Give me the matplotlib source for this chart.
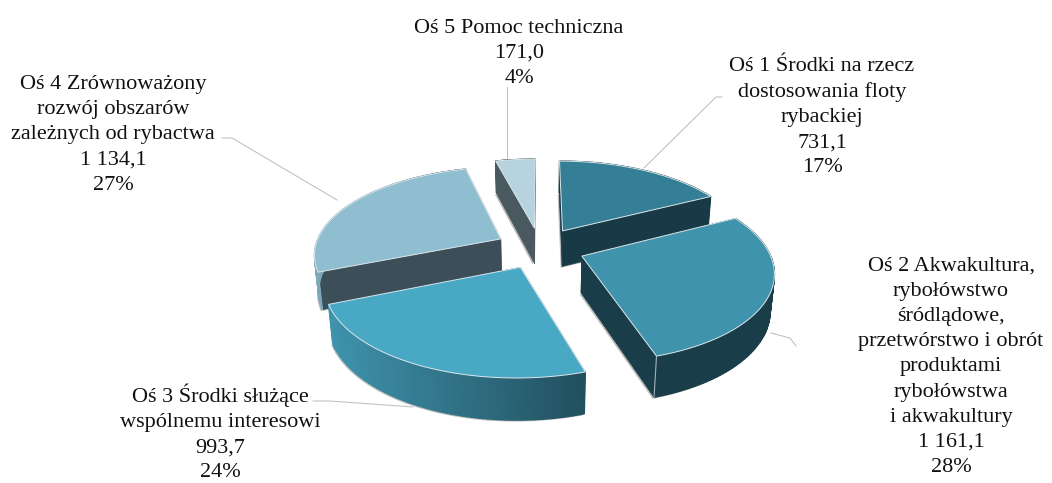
import numpy as np
import matplotlib
matplotlib.use("Agg")
import matplotlib.pyplot as plt
from matplotlib.colors import to_rgb
from matplotlib.patches import Polygon

# Exploded 3D pie, projected by hand because matplotlib has no perspective pie

categories = ["Oś 1", "Oś 2", "Oś 3", "Oś 4", "Oś 5"]
values = [731.1, 1161.1, 993.7, 1134.1, 171.0]
percents = ["17%", "28%", "24%", "27%", "4%"]
names = [
    "Oś 1 Środki na rzecz\ndostosowania floty\nrybackiej",
    "Oś 2 Akwakultura,\nrybołówstwo\nśródlądowe,\nprzetwórstwo i obrót\nproduktami\nrybołówstwa\ni akwakultury",
    "Oś 3 Środki służące\nwspólnemu interesowi",
    "Oś 4 Zrównoważony\nrozwój obszarów\nzależnych od rybactwa",
    "Oś 5 Pomoc techniczna",
]
value_labels = ["731,1", "1 161,1", "993,7", "1 134,1", "171,0"]

top_colors = ["#347f95", "#4093ad", "#49a8c4", "#90bed1", "#b7d3df"]
wall_colors = ["#183a46", "#1a3d4a", "#3f93ad", "#7fa9ba", "#4a5960"]
side_colors = ["#183a46", "#1a3d4a", "#22505f", "#3c4f59", "#4a5960"]
draw_order = [4, 0, 3, 1, 2]

label_pos = [(822, 117), (951, 367), (220, 433), (113, 135), (519, 53.5)]
leaders = [
    [(722, 97), (716, 97), (644, 168)],
    [(771, 333), (790, 338), (796, 346)],
    [(313, 401), (330, 401), (413, 407)],
    [(222, 138), (232, 138), (337, 200)],
    [(507, 87), (507, 158)],
]

CX, CY = 540, 248
A, B, DROP = 186, 86, 37
PERSP, DEPTH_PERSP = 0.16, 0.018
EXPLODE = 0.24


def project(X, Y, d):
    s = 1 / (1 + PERSP * Y + DEPTH_PERSP * d)
    return CX + A * s * X, CY - B * s * Y + DROP * s * d


def slice_points(start, end, mid, d):
    # apex first, then the outer arc, angles clockwise from the top
    ox, oy = EXPLODE * np.sin(mid), EXPLODE * np.cos(mid)
    ang = np.linspace(start, end, 80)
    x, y = project(ox + np.sin(ang), oy + np.cos(ang), d)
    ax0, ay0 = project(ox, oy, d)
    return (ax0, ay0), np.column_stack([x, y])


def blend(c1, c2, t):
    c1 = np.array(to_rgb(c1))
    c2 = np.array(to_rgb(c2))
    return c1 + (c2 - c1) * t


fig = plt.figure(figsize=(10.52, 4.83), dpi=100)
ax = fig.add_axes([0, 0, 1, 1])
ax.set_xlim(0, 1052)
ax.set_ylim(483, 0)
ax.axis("off")

bounds = np.cumsum([0] + values) / sum(values) * 2 * np.pi

for i in draw_order:
    start, end = bounds[i], bounds[i + 1]
    mid = (start + end) / 2
    apex_t, arc_t = slice_points(start, end, mid, 0)
    apex_b, arc_b = slice_points(start, end, mid, 1)

    # soft grey shadow under the slice
    shadow = np.vstack([apex_b, arc_b]) + np.array([-1.5, 1.5])
    ax.add_patch(Polygon(shadow, closed=True, fc="#8a8a8a", ec="none", alpha=0.55))

    # radial walls first, the outer wall goes over them
    for a, b in [(arc_t[0], arc_b[0]), (arc_t[-1], arc_b[-1])]:
        ax.add_patch(Polygon([apex_t, a, b, apex_b], closed=True,
                             fc=side_colors[i], ec=side_colors[i], lw=0.5))

    # outer wall, gradient left to right
    xmin, xmax = arc_t[:, 0].min(), arc_t[:, 0].max()
    for k in range(len(arc_t) - 1):
        col = blend(wall_colors[i], side_colors[i], (arc_t[k, 0] - xmin) / (xmax - xmin))
        quad = [arc_t[k], arc_t[k + 1], arc_b[k + 1], arc_b[k]]
        ax.add_patch(Polygon(quad, closed=True, fc=col, ec=col, lw=1.0))

    # thin light edge on the near corner
    if np.cos(end) < -0.5:
        ax.plot([arc_t[-1, 0], arc_b[-1, 0]], [arc_t[-1, 1], arc_b[-1, 1]],
                color="#9fb3ba", lw=0.8)

    top = np.vstack([apex_t, arc_t])
    ax.add_patch(Polygon(top, closed=True, fc=top_colors[i], ec="#dbe7eb", lw=0.7))

for i in range(len(categories)):
    pts = np.array(leaders[i])
    ax.plot(pts[:, 0], pts[:, 1], color="#bbbbbb", lw=0.7)
    ax.text(label_pos[i][0], label_pos[i][1],
            names[i] + "\n" + value_labels[i] + "\n" + percents[i],
            ha="center", va="center", multialignment="center",
            family="Liberation Serif", fontsize=16, color="#111111", linespacing=1.44)

fig.savefig("out.png", dpi=100)
